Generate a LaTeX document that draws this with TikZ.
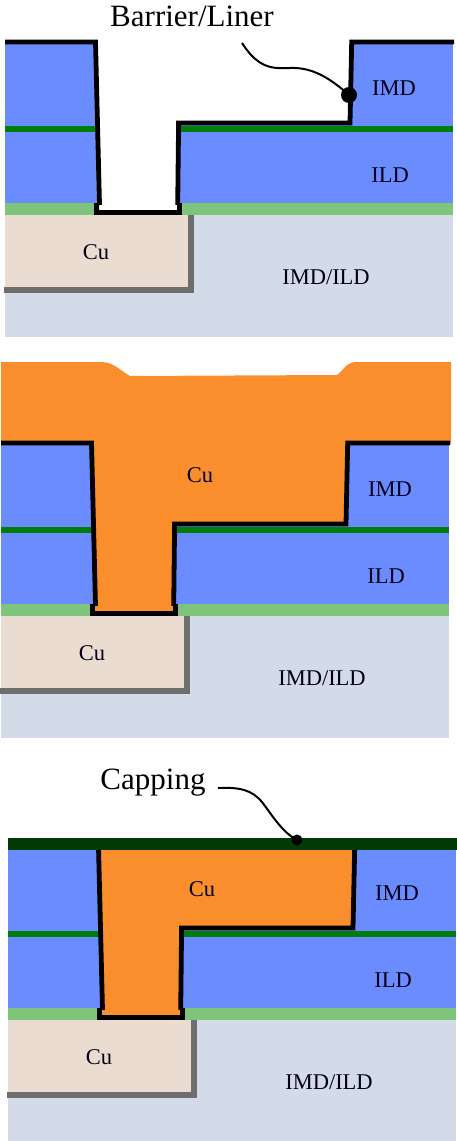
\documentclass[tikz,border=0pt]{standalone}
\usepackage{fontspec}
\setmainfont{Liberation Serif}
\definecolor{imdblue}{HTML}{6A8CFF}
\definecolor{etchgreen}{HTML}{007D0A}
\definecolor{stopgreen}{HTML}{7EC47A}
\definecolor{oxidegrey}{HTML}{D3DAE8}
\definecolor{oldcu}{HTML}{EADCD0}
\definecolor{cuedge}{HTML}{6E6E6E}
\definecolor{newcu}{HTML}{FB8E2C}
\definecolor{capgreen}{HTML}{033A06}
\tikzset{
  linerline/.style={line width=4.8pt,black,miter limit=4},
  footline/.style={line width=5.4pt,black},
  cuedgeline/.style={line width=6pt,cuedge},
  layertext/.style={font=\fontsize{22.5}{24}\selectfont,text=black!90!blue,inner sep=0pt},
  calltext/.style={font=\fontsize{31}{34}\selectfont,inner sep=0pt},
  leaderline/.style={line width=2pt,black},
  leaderdot/.style={circle,fill=black,inner sep=0pt}
}
\newcommand{\viastack}[2]{
    \fill[imdblue] (5,42) rectangle (453,203);
    \fill[etchgreen] (5,125.5) rectangle (453,131.5);
    \fill[stopgreen] (5,203) rectangle (453,215);
    \fill[oxidegrey] (5,215) rectangle (453,337);
    \fill[oldcu] (5,215) rectangle (190,287);
    \draw[cuedgeline] (4,289.5) -- (191.25,289.5) -- (191.25,215);
    \fill[#2] (95.5,42) -- (99.5,211) -- (177.7,211) -- (178.6,123) -- (350,123) -- (351.7,42) -- cycle;
    \draw[linerline] (5,42) -- (95.5,42) -- (99.5,205);
    \draw[linerline] (177.7,205) -- (178.6,123) -- (350,123) -- (351.7,42) -- (454,42);
    \draw[footline] (96.5,203) -- (96.5,212.5) -- (179.5,212.5) -- (179.5,203);
    \node[layertext] (#1imd) at (394,88.5) {IMD};
    \node[layertext] (#1ild) at (390,175.5) {ILD};
    \node[layertext] (#1cu) at (96,252.5) {Cu};
    \node[layertext] (#1oxide) at (326,277.5) {IMD/ILD};
}
\begin{document}
\begin{tikzpicture}[x=1pt,y=-1pt]
    \useasboundingbox (0,0) rectangle (457,1141);
    \viastack{first}{white}
    \node[calltext] (barrier) at (192,16.5) {Barrier/Liner};
    \coordinate (barrierend) at (242,43);
    \node[leaderdot,minimum size=16pt] (barrierdot) at (349,95) {};
    \draw[leaderline] (barrierend) .. controls (258,68) and (272,69) .. (290,68) .. controls (312,67) and (330,78) .. (barrierdot.center);
    \fill[newcu] (1,362) -- (100,362) .. controls (113,362) and (117,368) .. (130,376) -- (337,375) .. controls (343,371) and (346,362) .. (356,362) -- (451,362) -- (451,444) -- (1,444) -- cycle;
    \begin{scope}[shift={(-4,401)}]
        \viastack{second}{newcu}
        \node[layertext] (secondtop) at (204,74) {Cu};
    \end{scope}
    \begin{scope}[shift={(3,805)}]
        \viastack{third}{newcu}
        \fill[capgreen] (5,33) rectangle (454,45);
        \node[layertext] (thirdtop) at (199,84) {Cu};
    \end{scope}
    \node[calltext] (capping) at (153,783) {Capping};
    \coordinate (cappingend) at (218,788);
    \node[leaderdot,minimum size=11pt] (cappingdot) at (297,840) {};
    \draw[leaderline] (cappingend) .. controls (240,787) and (252,790) .. (262,802) .. controls (272,815) and (282,832) .. (cappingdot.center);
\end{tikzpicture}
\end{document}
